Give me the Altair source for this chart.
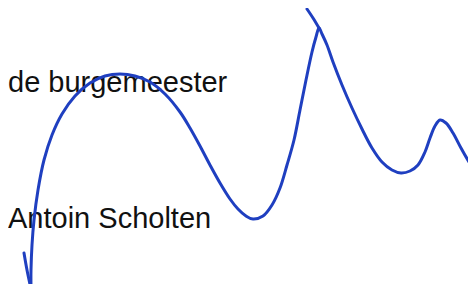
import altair as alt
import pandas as pd

# Signature stroke (pixel coordinates, y downward)
main_x = [31, 31, 32, 34, 38, 44, 52, 62, 75, 90, 105, 120, 135, 150, 165, 180, 190, 200, 210, 220, 230, 238, 246, 253,
          263, 272, 280, 287, 294, 300, 306, 312, 316, 319,
          322, 327, 333, 342, 352, 362, 372, 382, 392, 401, 410, 418, 425, 430, 435, 440,
          446, 453, 461, 469, 476]
main_y = [289, 270, 245, 220, 190, 160, 135, 114, 96, 83, 76, 74, 76, 82, 94, 112, 128, 146, 165, 183, 199, 209, 216, 219,
          216, 205, 188, 165, 140, 110, 80, 52, 37, 28,
          34, 45, 62, 85, 108, 129, 148, 162, 170, 173, 171, 165, 152, 138, 126, 120,
          123, 133, 148, 162, 173]
hook_x = [24, 27, 31]
hook_y = [253, 270, 289]
tail_x = [307, 313, 319]
tail_y = [9, 18, 28]

labels = ["de burgemeester", "Antoin Scholten"]
label_x = [8, 8]
label_y = [92, 228]

rows = []
for name, xs, ys in [("main", main_x, main_y), ("hook", hook_x, hook_y), ("tail", tail_x, tail_y)]:
    for i, (a, b) in enumerate(zip(xs, ys)):
        rows.append({"stroke": name, "i": i, "x": a, "y": b})
df = pd.DataFrame(rows)
tdf = pd.DataFrame({"label": labels, "x": label_x, "y": label_y})

xs = alt.Scale(domain=[8, 468], nice=False, zero=False)
ys = alt.Scale(domain=[8, 284], nice=False, zero=False, reverse=True)

line = alt.Chart(df).mark_line(
    interpolate="catmull-rom", strokeWidth=3, strokeCap="round", strokeJoin="round", color="#1f3fc0"
).encode(
    x=alt.X("x:Q", scale=xs, axis=None),
    y=alt.Y("y:Q", scale=ys, axis=None),
    detail="stroke:N",
    order="i:Q",
)

text = alt.Chart(tdf).mark_text(
    align="left", baseline="alphabetic", font="Liberation Sans", fontSize=29, color="#111111"
).encode(
    x=alt.X("x:Q", scale=xs, axis=None),
    y=alt.Y("y:Q", scale=ys, axis=None),
    text="label:N",
)

chart = alt.layer(text, line).properties(
    width=460, height=276, padding=0, autosize=alt.AutoSizeParams(type="none"), background="white"
).configure_view(stroke=None)

chart.save("out.html", embed_options={"renderer": "svg", "actions": False})
